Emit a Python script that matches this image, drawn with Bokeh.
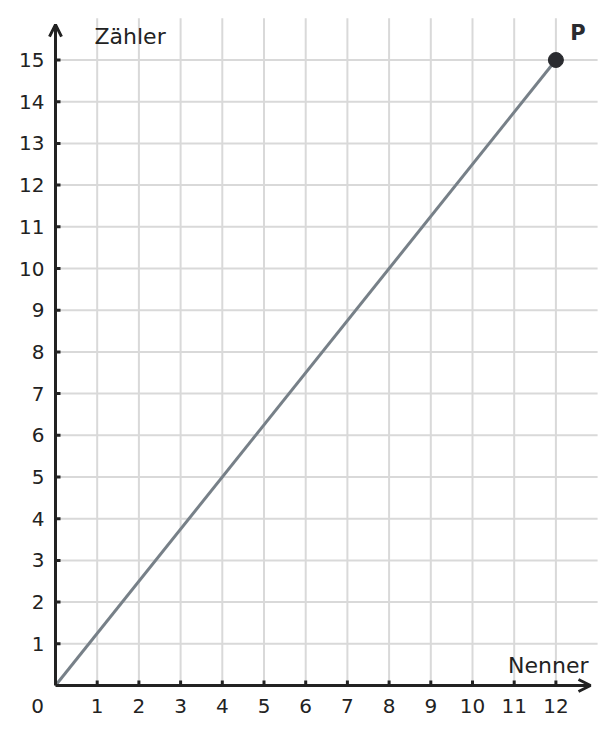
from bokeh.plotting import figure
from bokeh.models import Arrow, OpenHead
from bokeh.core.properties import value
from bokeh.embed import file_html
from bokeh.resources import INLINE

# data
x_ticks = list(range(1, 13))
y_ticks = list(range(1, 16))
grid_x = list(range(1, 13))
grid_y = list(range(1, 16))
grid_x_max = 13
grid_y_max = 16
line_x = [0, 12]
line_y = [0, 15]
point_x = [12]
point_y = [15]
point_label = "P"
x_label = "Nenner"
y_label = "Zähler"

W, H = 598, 718
scale = 41.7
x0 = -55 / scale
y1 = 685 / scale
p = figure(width=W, height=H, x_range=(x0, x0 + W / scale), y_range=(y1 - H / scale, y1),
           output_backend="svg", toolbar_location=None, min_border=0)
p.axis.visible = False
p.grid.visible = False
p.outline_line_color = None
p.background_fill_color = "white"

font = value("DejaVu Sans")
grid_color = "#d9d9d9"
axis_color = "#222222"

# grid
p.segment(x0=grid_x, y0=[0] * len(grid_x), x1=grid_x, y1=[grid_y_max] * len(grid_x),
          line_color=grid_color, line_width=2)
p.segment(x0=[0] * len(grid_y), y0=grid_y, x1=[grid_x_max] * len(grid_y), y1=grid_y,
          line_color=grid_color, line_width=2)

# axes with arrows
p.add_layout(Arrow(x_start=0, y_start=0, x_end=12.83, y_end=0, line_color=axis_color, line_width=3,
                   end=OpenHead(size=12, line_color=axis_color, line_width=3)))
p.add_layout(Arrow(x_start=0, y_start=0, x_end=0, y_end=15.85, line_color=axis_color, line_width=3,
                   end=OpenHead(size=12, line_color=axis_color, line_width=3)))

# ticks (inside, short)
tk = 5 / scale
p.segment(x0=x_ticks, y0=[0] * len(x_ticks), x1=x_ticks, y1=[tk] * len(x_ticks),
          line_color=axis_color, line_width=3)
p.segment(x0=[0] * len(y_ticks), y0=y_ticks, x1=[tk] * len(y_ticks), y1=y_ticks,
          line_color=axis_color, line_width=3)

# tick labels
p.text(x=x_ticks, y=[-20 / scale] * len(x_ticks), text=[str(v) for v in x_ticks],
       text_font=font, text_font_size="20px", text_color=axis_color,
       text_align="center", text_baseline="middle")
p.text(x=[-11 / scale] * len(y_ticks), y=y_ticks, text=[str(v) for v in y_ticks],
       text_font=font, text_font_size="20px", text_color=axis_color,
       text_align="right", text_baseline="middle")
p.text(x=[-18 / scale], y=[-20 / scale], text=["0"], text_font=font, text_font_size="20px",
       text_color=axis_color, text_align="center", text_baseline="middle")

# axis labels
p.text(x=[39 / scale], y=[(685 - 36) / scale], text=[y_label], text_font=font, text_font_size="22px",
       text_color=axis_color, text_align="left", text_baseline="middle")
p.text(x=[(588 - 55) / scale], y=[20 / scale], text=[x_label], text_font=font, text_font_size="22px",
       text_color=axis_color, text_align="right", text_baseline="middle")

# line and point
p.line(line_x, line_y, line_color="#778088", line_width=3)
p.scatter(point_x, point_y, size=15, fill_color="#2a2b2f", line_color="#2a2b2f")
p.text(x=[point_x[0] + 22 / scale], y=[point_y[0] + 27 / scale], text=[point_label], text_font=font,
       text_font_size="21px", text_font_style="bold", text_color="#2a2b2f",
       text_align="center", text_baseline="middle")

open("out.html", "w").write(file_html(p, INLINE))
